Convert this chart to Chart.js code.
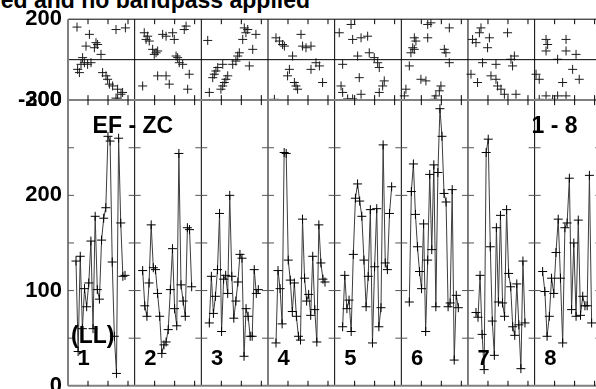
<!DOCTYPE html>
<html>
<head>
<meta charset="utf-8">
<script src="https://cdn.jsdelivr.net/npm/chart.js@4/dist/chart.umd.min.js"></script>
<style>
html, body { margin: 0; padding: 0; background: #fff; }
body { position: relative; width: 596px; height: 389px; overflow: hidden; }
#title { position: absolute; right: 286px; top: -11px; font: bold 23px "Liberation Sans", Arial, sans-serif; line-height: 23px; white-space: nowrap; color: #000; }
#wrap { position: absolute; left: 0; top: 0; width: 610px; height: 405px; }
</style>
</head>
<body>
<div id="title">ed and no bandpass applied</div>
<div id="wrap"><canvas id="chart"></canvas></div>
<script>
// bottom panel: one trace per segment (LL 1..8)
const seg1 = [131, 36, 136, 60, 102, 83, 108, 152, 60, 178, 101, 91, 153, 176, 187, 262, 257, 130, 52, 13, 260, 171, 115, 116];
const seg2 = [121, 84, 73, 108, 169, 124, 122, 97, 73, 34, 43, 46, 59, 101, 144, 81, 63, 244, 106, 89, 73, 166, 164, 104];
const seg3 = [66, 115, 76, 94, 122, 181, 57, 112, 116, 97, 200, 115, 71, 89, 109, 138, 134, 31, 81, 73, 52, 52, 122, 97, 101];
const seg4 = [45, 121, 102, 65, 245, 244, 132, 111, 78, 108, 73, 52, 48, 175, 113, 89, 96, 74, 136, 80, 46, 169, 129, 112, 109];
const seg5 = [62, 116, 81, 90, 57, 138, 197, 212, 194, 178, 132, 83, 115, 185, 45, 125, 186, 62, 82, 253, 129, 122, 181, 209];
const seg6 = [88, 204, 233, 180, 146, 120, 102, 170, 57, 132, 222, 143, 232, 83, 224, 291, 262, 202, 193, 83, 87, 206, 27, 95, 82];
const seg7 = [77, 72, 116, 54, 17, 245, 259, 146, 68, 32, 166, 88, 179, 87, 73, 185, 118, 104, 62, 53, 107, 64, 18, 131, 66];
const seg8 = [120, 99, 52, 73, 113, 97, 140, 175, 113, 45, 166, 171, 218, 80, 150, 73, 174, 74, 94, 84, 84, 221, 66];

// top panel: scatter points per segment, [x within segment, value]
const top1 = [[4.5,161],[10.7,125],[9,67],[14,84],[14.8,75],[13.2,59],[16.5,26],[7.3,10],[6.5,-23],[8.2,-15],[9.8,-23],[11.5,-15],[4.8,-48],[5.7,-64],[17.3,-64],[19,-80],[19.8,-97],[20.7,-121],[22.3,-130],[24.8,-146],[26.5,-171],[24,-190],[24.8,-196],[27.3,-162],[24,149],[28.7,157]];
const top2 = [[4.8,133],[6.5,116],[5.7,100],[7.3,92],[14,125],[15.7,116],[19,133],[19.8,100],[24.8,149],[25.7,166],[9,51],[10.7,34],[9.8,26],[11.5,43],[20.7,18],[21.5,10],[22.3,-15],[24,-23],[27.3,-72],[11.5,-80],[15.7,-80],[4,-130],[17.3,-121],[26.5,-146]];
const top3 = [[3.2,95],[21.5,157],[23.2,149],[22.3,133],[27.3,125],[20.7,100],[25.7,51],[19,34],[18.2,18],[17.3,-7],[15.7,-23],[24,-31],[10.7,-23],[8.2,-39],[7.3,-56],[6.5,-72],[5.7,-89],[13.2,-80],[12.3,-97],[11.5,-113],[10.7,-130],[9.8,-146],[4,-162]];
const top4 = [[4,108],[5.7,92],[7.3,75],[8.2,67],[16.5,125],[17.3,67],[19,59],[21.5,67],[12.3,18],[24,-15],[25.7,-31],[10.7,-48],[9.8,-80],[21.5,-48],[27.3,-113],[14,-130],[13.2,-113],[14.8,-146],[3.2,-196]];
const top5 = [[2.3,133],[8.2,174],[9,100],[13.2,108],[16.5,116],[11.5,18],[17.3,34],[19.8,10],[21.5,-15],[22.3,-39],[4,-23],[12.3,-89],[3.2,-130],[4,-162],[6.5,-194],[9,-194],[13.2,-171],[24.8,-105],[24,-130],[22.3,-162]];
const top6 = [[13.2,174],[14.8,182],[24,157],[6.5,108],[7.3,92],[13.2,108],[5.7,59],[6.5,51],[4.8,34],[21.5,51],[22.3,34],[24,-15],[4,-31],[9.8,-97],[12.3,-105],[2.3,-146],[1.5,-179],[19.8,-130],[19,-154],[17.3,-179],[16.5,-196]];
const top7 = [[6.5,157],[5.7,133],[2.3,100],[4,84],[10.7,108],[9.8,59],[19.8,133],[7.3,-15],[14,-23],[23.2,18],[21.5,2],[22.3,-31],[1.5,-72],[4.8,-113],[11.5,-80],[14.8,-130],[16.5,-146],[18.2,-171],[24,-171],[14,-97]];
const top8 = [[5.7,100],[6.5,75],[15.7,100],[5.7,43],[15.7,43],[11.5,2],[20.7,26],[19,-48],[22.3,-97],[0.7,-72],[2.3,-97],[14,-113],[2.3,-196],[5.7,-179],[9,-196],[11.5,-179],[15.7,-179]];

const panelNames = ['1', '2', '3', '4', '5', '6', '7', '8'];
const botTicks = [0, 50, 100, 150, 200, 250, 300];
const topTicks = [-200, 0, 200];
const xTicks = [10, 20, 30];

const PANEL = 33.33;
const bottomSegs = [seg1, seg2, seg3, seg4, seg5, seg6, seg7, seg8];
const topSegs = [top1, top2, top3, top4, top5, top6, top7, top8];

const FONT = '"Liberation Sans", Arial, sans-serif';

const datasets = [];
bottomSegs.forEach((seg, p) => {
    datasets.push({
        type: 'line',
        yAxisID: 'yBot',
        data: seg.map((v, i) => ({ x: p * PANEL + 4 + i * 24.5 / (seg.length - 1), y: v })),
        borderColor: '#3c3c3c',
        borderWidth: 1,
        pointStyle: 'cross',
        pointRadius: 4.5,
        pointBorderColor: '#000',
        pointBorderWidth: 1,
        fill: false,
        tension: 0
    });
});
topSegs.forEach((pts, p) => {
    datasets.push({
        type: 'scatter',
        yAxisID: 'yTop',
        data: pts.map(([u, v]) => ({ x: p * PANEL + u, y: v })),
        showLine: false,
        pointStyle: 'cross',
        pointRadius: 4.5,
        pointBorderColor: '#1a1a1a',
        pointBorderWidth: 1
    });
});

const framePlugin = {
    id: 'frame',
    afterDatasetsDraw(chart) {
        const { ctx, chartArea: a } = chart;
        const x = chart.scales.x, yBot = chart.scales.yBot, yTop = chart.scales.yTop;
        const mid = yTop.getPixelForValue(0);
        const split = yBot.getPixelForValue(300);
        const line = (x1, y1, x2, y2) => { ctx.beginPath(); ctx.moveTo(x1, y1); ctx.lineTo(x2, y2); ctx.stroke(); };

        ctx.save();
        ctx.strokeStyle = '#000';
        ctx.lineWidth = 1;
        for (let p = 1; p <= 8; p++) {
            const px = x.getPixelForValue(p * PANEL);
            line(px, a.top, px, a.bottom);
        }
        line(a.left, a.top, a.right, a.top);
        line(a.left, mid, a.right, mid);

        ctx.strokeStyle = '#808080';
        ctx.lineWidth = 2;
        line(a.left, a.top, a.left, a.bottom);
        line(a.left, a.bottom, a.right, a.bottom);
        line(a.left, split, a.right, split);

        // x ticks for every panel
        ctx.strokeStyle = '#000';
        ctx.lineWidth = 1;
        for (let p = 0; p < 8; p++) {
            xTicks.forEach(u => {
                const px = x.getPixelForValue(p * PANEL + u);
                line(px, a.bottom, px, a.bottom - 5);
                line(px, split - 5, px, split + 5);
                line(px, a.top, px, a.top + 5);
            });
        }
        // y ticks on each panel edge
        ctx.strokeStyle = '#555';
        for (let p = 0; p <= 8; p++) {
            const bx = x.getPixelForValue(p * PANEL);
            botTicks.slice(1, -1).forEach(v => {
                const py = yBot.getPixelForValue(v);
                line(p === 0 ? bx : bx - 6, py, bx + 6, py);
            });
        }

        ctx.fillStyle = '#000';
        ctx.textBaseline = 'alphabetic';
        ctx.font = 'bold 23px ' + FONT;
        ctx.fillText('EF - ZC', x.getPixelForValue(12.3), yBot.getPixelForValue(265));
        ctx.fillText('1 - 8', x.getPixelForValue(231.8), yBot.getPixelForValue(265));
        ctx.fillText('(LL)', x.getPixelForValue(1.5), yBot.getPixelForValue(45));
        ctx.font = 'bold 22px ' + FONT;
        panelNames.forEach((name, p) => {
            ctx.fillText(name, x.getPixelForValue(p * PANEL + 4.8), yBot.getPixelForValue(22));
        });
        ctx.restore();
    }
};

const tickFont = { family: FONT, size: 22, weight: 'bold' };

new Chart(document.getElementById('chart'), {
    type: 'line',
    data: { datasets: datasets },
    options: {
        responsive: true,
        maintainAspectRatio: false,
        animation: false,
        layout: { padding: { top: 16.7, right: 8.7, bottom: 15, left: 0 } },
        plugins: { legend: { display: false }, tooltip: { enabled: false } },
        scales: {
            x: { type: 'linear', min: 0, max: PANEL * 8, display: false },
            yBot: {
                type: 'linear', position: 'left', stack: 'v', stackWeight: 287,
                min: 0, max: 300,
                afterBuildTicks: s => { s.ticks = botTicks.map(v => ({ value: v })); },
                afterFit: s => { s.width = 68; },
                grid: { display: false, drawTicks: false },
                border: { display: false },
                ticks: {
                    autoSkip: false, padding: 6, color: '#000', font: tickFont,
                    callback: v => (v % 100 === 0 ? String(v) : '')
                }
            },
            yTop: {
                type: 'linear', position: 'left', stack: 'v', stackWeight: 81.3,
                min: -200, max: 200,
                afterBuildTicks: s => { s.ticks = topTicks.map(v => ({ value: v })); },
                afterFit: s => { s.width = 68; },
                grid: { display: false, drawTicks: false },
                border: { display: false },
                ticks: {
                    autoSkip: false, padding: 6, color: '#000', font: tickFont,
                    callback: v => (v === 0 ? '' : String(v))
                }
            }
        }
    },
    plugins: [framePlugin]
});
</script>
</body>
</html>
